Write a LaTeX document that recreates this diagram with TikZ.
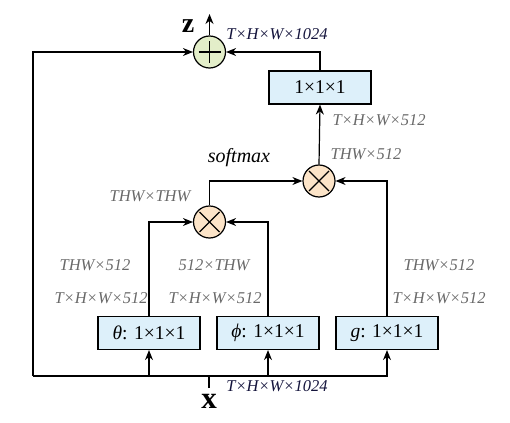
\documentclass[tikz,border=0pt]{standalone}
\usepackage{fontspec}
\setmainfont{Liberation Serif}
\usetikzlibrary{arrows.meta}
\definecolor{boxblue}{RGB}{221,240,250}
\definecolor{plusgreen}{RGB}{227,238,201}
\definecolor{mulorange}{RGB}{252,228,200}
\definecolor{lblgray}{RGB}{105,105,105}
\definecolor{navy}{RGB}{20,20,60}
\tikzset{
  conv/.style={draw, line width=1.2pt, fill=boxblue, minimum width=102pt, minimum height=33pt, inner sep=0pt, font=\fontsize{19.5}{19.5}\selectfont},
  opnode/.style={draw, line width=1.2pt, circle, minimum size=32pt, inner sep=0pt},
  arr/.style={line width=1.2pt, -{Stealth[length=10pt,width=8pt]}},
  ln/.style={line width=1.2pt},
  dimlbl/.style={text=lblgray, font=\fontsize{16.5}{16.5}\selectfont\itshape, inner sep=0pt},
  toplbl/.style={text=navy, font=\fontsize{16.5}{16.5}\selectfont\itshape, inner sep=0pt},
  vec/.style={font=\fontsize{28}{28}\selectfont\bfseries, inner sep=0pt}
}
\begin{document}
\begin{tikzpicture}[x=1pt, y=-1pt]
\useasboundingbox (0,0) rectangle (510,422);
% nodes
\node[opnode, fill=plusgreen] (plus) at (209.5,52) {};
\node[opnode, fill=mulorange] (mulT) at (319,181) {};
\node[opnode, fill=mulorange] (mulL) at (209.5,222) {};
\node[conv] (top) at (320,87.5) {1×1×1};
\node[conv] (theta) at (149,333) {\textit{θ}: 1×1×1};
\node[conv] (phi) at (268,333) {\textit{ϕ}: 1×1×1};
\node[conv] (g) at (387,333) {\textit{g}: 1×1×1};
\node[vec] (z) at (188,26) {z};
\node[vec, font=\fontsize{31}{31}\selectfont\bfseries] (x) at (209,401) {x};
\coordinate (zout) at (209.5,14);
\coordinate (bl) at (33,376);
\coordinate (br) at (388,376);
\coordinate (xin) at (209,376);
\coordinate (xstub) at (209,388);
% symbols in circles
\draw[ln] ([xshift=-11pt]plus.center) -- ([xshift=11pt]plus.center);
\draw[ln] ([yshift=-11pt]plus.center) -- ([yshift=11pt]plus.center);
\foreach \n in {mulT,mulL}{
  \draw[ln] ([xshift=-10pt,yshift=-10pt]\n.center) -- ([xshift=10pt,yshift=10pt]\n.center);
  \draw[ln] ([xshift=-10pt,yshift=10pt]\n.center) -- ([xshift=10pt,yshift=-10pt]\n.center);
}
% connectors
\draw[arr] (plus.north) -- (zout);
\draw[arr] (top.north) |- (plus.east);
\draw[arr] (bl) |- (plus.west);
\draw[arr] (mulT.north) -- (top.south);
\draw[arr] (mulL.north) |- (mulT.west);
\draw[arr] (g.north) |- (mulT.east);
\draw[arr] (theta.north) |- (mulL.west);
\draw[arr] (phi.north) |- (mulL.east);
\draw[ln] (bl) -- (br);
\draw[ln] (xstub) -- (xin);
\draw[arr] (theta.south |- bl) -- (theta.south);
\draw[arr] (phi.south |- bl) -- (phi.south);
\draw[arr] (g.south |- bl) -- (g.south);
% labels
\node[toplbl] (l1) at (277,34) {T×H×W×1024};
\node[toplbl] (l2) at (277,386) {T×H×W×1024};
\node[dimlbl] (l3) at (379,120) {T×H×W×512};
\node[dimlbl] (l4) at (366,154) {THW×512};
\node[dimlbl, text=black, font=\fontsize{20}{20}\selectfont\itshape] (l5) at (239,158) {softmax};
\node[dimlbl] (l6) at (150,196) {THW×THW};
\node[dimlbl] (l7) at (95,265) {THW×512};
\node[dimlbl] (l8) at (101,298) {T×H×W×512};
\node[dimlbl] (l9) at (214,265) {512×THW};
\node[dimlbl] (l10) at (215,298) {T×H×W×512};
\node[dimlbl] (l11) at (439,265) {THW×512};
\node[dimlbl] (l12) at (439,298) {T×H×W×512};
\end{tikzpicture}
\end{document}
